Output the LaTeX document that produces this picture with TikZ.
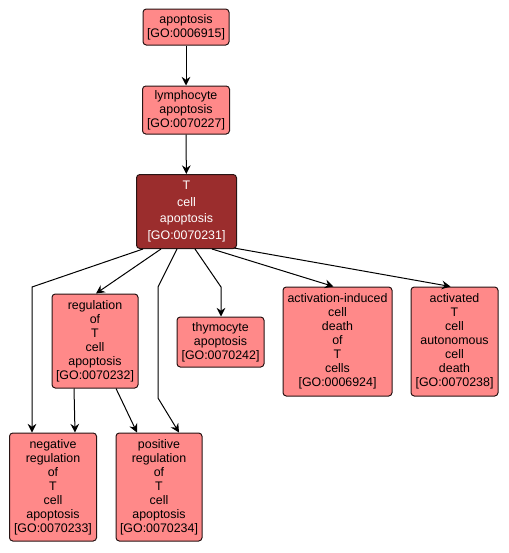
\documentclass[tikz,border=0pt]{standalone}
\usepackage{fontspec}
\setmainfont{Liberation Sans}
\usetikzlibrary{arrows.meta,calc}
\definecolor{lightbox}{RGB}{255,137,137}
\definecolor{darkbox}{RGB}{155,45,45}
\definecolor{boxline}{RGB}{40,20,20}
\begin{document}
\begin{tikzpicture}[x=0.75pt,y=-0.75pt,
  gobox/.style={draw=boxline,line width=0.75pt,fill=lightbox,rounded corners=2.5pt,
    align=center,inner sep=0pt,font=\fontsize{9.3}{10.5}\selectfont,text=black},
  godark/.style={gobox,fill=darkbox,text=white,font=\fontsize{9.3}{12.5}\selectfont},
  arr/.style={draw=black,line width=0.75pt,-{Stealth[length=6.5pt,width=6.5pt,inset=2.2pt]}}]
\useasboundingbox (0,0) rectangle (508,553);
\node[gobox,minimum width=86*0.75pt,minimum height=36*0.75pt] (apop) at (186,27) {apoptosis\\{[}GO:0006915{]}};
\node[gobox,minimum width=87*0.75pt,minimum height=48*0.75pt] (lymph) at (186,110) {lymphocyte\\apoptosis\\{[}GO:0070227{]}};
\node[godark,minimum width=100*0.75pt,minimum height=74*0.75pt] (tcell) at (186.5,211.5) {T\\cell\\apoptosis\\{[}GO:0070231{]}};
\node[gobox,minimum width=86*0.75pt,minimum height=94*0.75pt] (reg) at (95,341) {regulation\\of\\T\\cell\\apoptosis\\{[}GO:0070232{]}};
\node[gobox,minimum width=87*0.75pt,minimum height=50*0.75pt] (thymo) at (220.5,342) {thymocyte\\apoptosis\\{[}GO:0070242{]}};
\node[gobox,minimum width=109*0.75pt,minimum height=109*0.75pt] (aicd) at (337.5,341.5) {activation-induced\\cell\\death\\of\\T\\cells\\{[}GO:0006924{]}};
\node[gobox,minimum width=87*0.75pt,minimum height=109*0.75pt] (act) at (454.5,341.5) {activated\\T\\cell\\autonomous\\cell\\death\\{[}GO:0070238{]}};
\node[gobox,minimum width=87*0.75pt,minimum height=108*0.75pt] (neg) at (53,487) {negative\\regulation\\of\\T\\cell\\apoptosis\\{[}GO:0070233{]}};
\node[gobox,minimum width=86*0.75pt,minimum height=108*0.75pt] (pos) at (159,487) {positive\\regulation\\of\\T\\cell\\apoptosis\\{[}GO:0070234{]}};
\coordinate (bn) at (32,287);
\coordinate (bp1) at (158,287);
\coordinate (bp2) at (158,398);
\coordinate (bt) at (221,287);
\draw[arr] (apop) -- (lymph);
\draw[arr] (lymph) -- (tcell);
\draw[arr] ($(tcell.south)+(-43.5,0)$) -- (bn) -- ($(neg.north)+(-21,0)$);
\draw[arr] ($(tcell.south)+(-25.5,0)$) -- ($(reg.north)+(1,0)$);
\draw[arr] ($(tcell.south)+(-9.5,0)$) -- (bp1) -- (bp2) -- ($(pos.north)+(20,0)$);
\draw[arr] ($(tcell.south)+(8.5,0)$) -- (bt) -- (bt |- thymo.north);
\draw[arr] ($(tcell.south)+(25.5,0)$) -- ($(aicd.north)+(-4,0)$);
\draw[arr] ($(tcell.south east)+(-3,-1)$) -- ($(act.north)+(-4,0)$);
\draw[arr] ($(reg.south)+(-21,0)$) -- ($(neg.north)+(22,0)$);
\draw[arr] ($(reg.south)+(21,0)$) -- ($(pos.north)+(-22,0)$);
\end{tikzpicture}
\end{document}
